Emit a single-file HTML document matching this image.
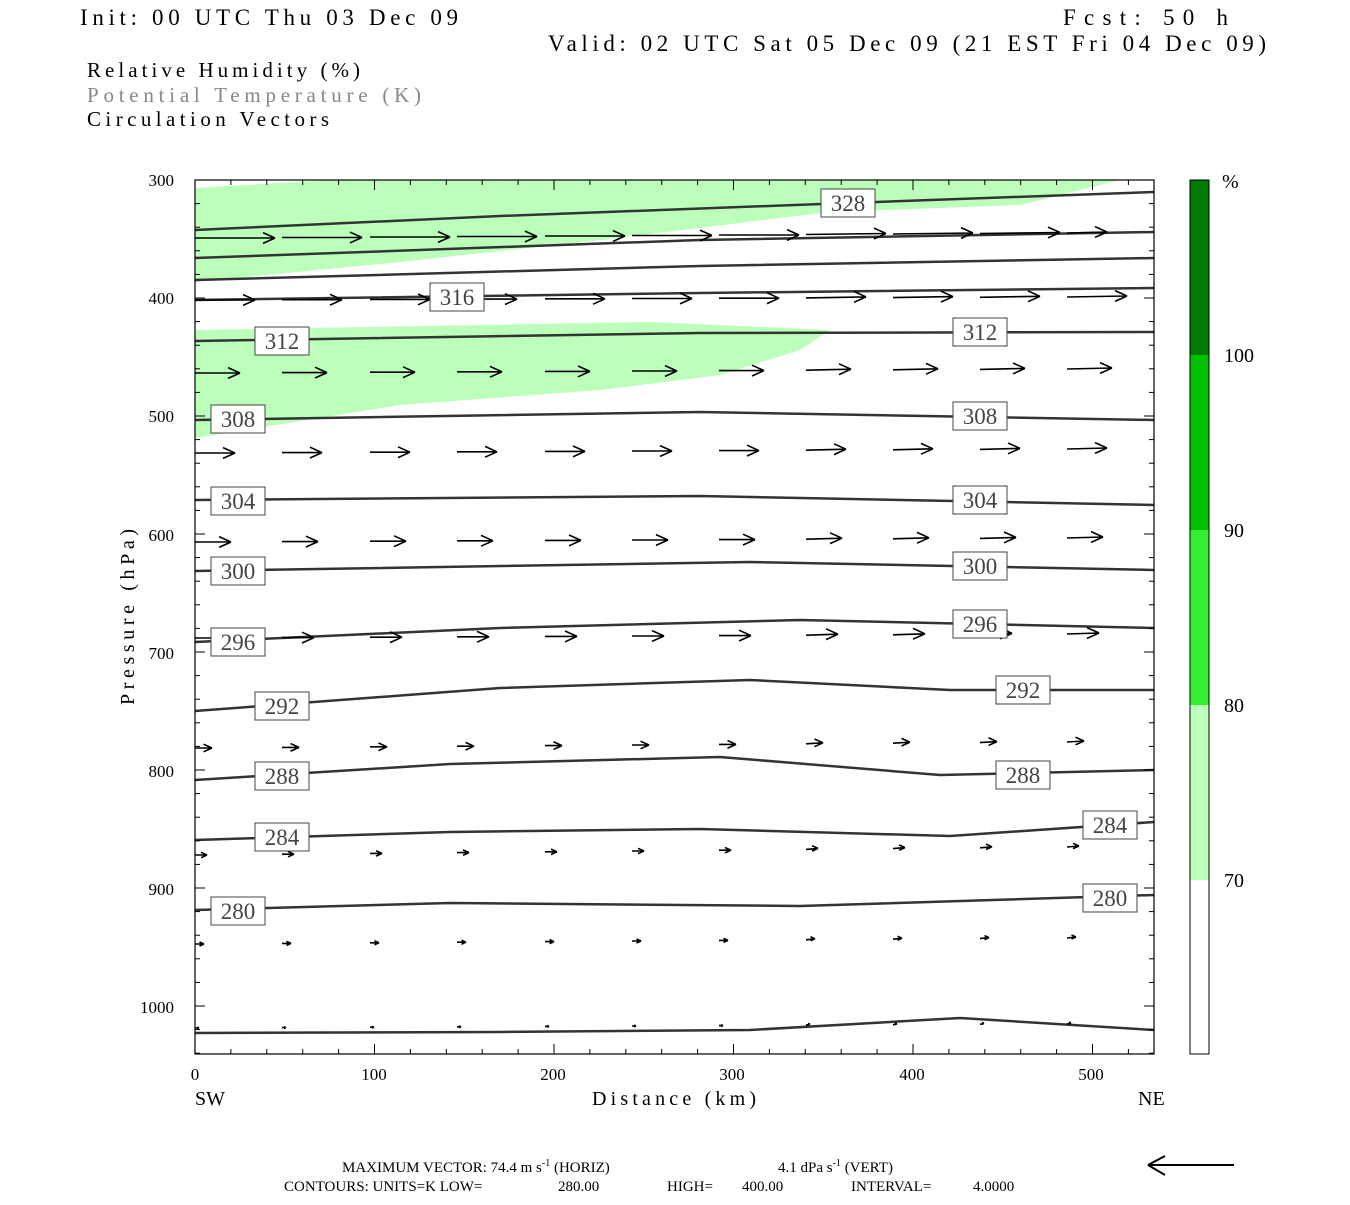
<!DOCTYPE html>
<html><head><meta charset="utf-8"><style>
body{margin:0;background:#fff;width:1350px;height:1200px;overflow:hidden}
svg text{font-family:"Liberation Serif",serif;fill:#000}
</style></head><body>
<svg id="s" width="1350" height="1200" xmlns="http://www.w3.org/2000/svg">
<text x="80" y="25" font-size="23" textLength="378" lengthAdjust="spacing">Init: 00 UTC Thu 03 Dec 09</text>
<text x="1063" y="25" font-size="23" textLength="165" lengthAdjust="spacing">Fcst:   50 h</text>
<text x="548" y="51" font-size="23" textLength="718" lengthAdjust="spacing">Valid: 02 UTC Sat 05 Dec 09 (21 EST Fri 04 Dec 09)</text>
<text x="87" y="77" font-size="21" textLength="273" lengthAdjust="spacing">Relative Humidity (%)</text>
<text x="87" y="102" font-size="21" style="fill:#888" textLength="334" lengthAdjust="spacing">Potential Temperature (K)</text>
<text x="87" y="126" font-size="21" textLength="242" lengthAdjust="spacing">Circulation Vectors</text>
<path d="M195,188 L330,180 L1120,180 L1040,200 L1020,205 L830,212 L600,240 L400,262 L195,282 Z" fill="#bbffbb"/>
<path d="M195,330 L650,322 L830,330 L800,350 L720,375 L600,390 L400,405 L195,438 Z" fill="#bbffbb"/>
<g id="cont" fill="none" stroke="#333" stroke-width="2.5">
<path d="M195,230 L500,216 L848,203 L1154,192"/>
<path d="M195,258 L700,240 L1154,232"/>
<path d="M195,280 L700,266 L1154,258"/>
<path d="M195,300 L700,293 L1154,288"/>
<path d="M195,341 L700,333 L1154,332"/>
<path d="M195,420 L700,412 L1154,420"/>
<path d="M195,500 L700,496 L1154,505"/>
<path d="M195,571 L750,562 L1154,570"/>
<path d="M195,642 L500,628 L800,620 L1154,628"/>
<path d="M195,711 L500,688 L750,680 L950,690 L1154,690"/>
<path d="M195,780 L450,764 L720,757 L940,775 L1154,770"/>
<path d="M195,840 L450,832 L700,829 L950,836 L1154,822"/>
<path d="M195,910 L450,903 L800,906 L1154,895"/>
<path d="M195,1033 L500,1032 L750,1030 L960,1018 L1154,1030"/>
</g>
<g id="arr" stroke="#000" stroke-width="1.6" fill="none"></g>
<g id="lab" font-size="23"></g>
<rect x="195" y="180" width="959" height="874" fill="none" stroke="#000" stroke-width="1.2"/>
<g id="ticks" stroke="#000" stroke-width="1"></g>
<g font-size="17" text-anchor="end">
<text x="174" y="186">300</text><text x="174" y="304">400</text><text x="174" y="422">500</text>
<text x="174" y="541">600</text><text x="174" y="659">700</text><text x="174" y="777">800</text>
<text x="174" y="895">900</text><text x="174" y="1013">1000</text>
</g>
<g font-size="17" text-anchor="middle">
<text x="195" y="1080">0</text><text x="374" y="1080">100</text><text x="553" y="1080">200</text>
<text x="732" y="1080">300</text><text x="912" y="1080">400</text><text x="1091" y="1080">500</text>
</g>
<text x="195" y="1105" font-size="20">SW</text>
<text x="1138" y="1105" font-size="20">NE</text>
<text x="592" y="1105" font-size="20" textLength="164" lengthAdjust="spacing">Distance (km)</text>
<text transform="translate(134,705) rotate(-90)" font-size="20" textLength="176" lengthAdjust="spacing">Pressure (hPa)</text>
<rect x="1190" y="180" width="19" height="175" fill="#007a00"/>
<rect x="1190" y="355" width="19" height="175" fill="#00c000"/>
<rect x="1190" y="530" width="19" height="175" fill="#33ee33"/>
<rect x="1190" y="705" width="19" height="175" fill="#bbffbb"/>
<rect x="1190" y="880" width="19" height="174" fill="#fff"/>
<rect x="1190" y="180" width="19" height="874" fill="none" stroke="#000"/>
<g font-size="20"><text x="1222" y="188">%</text><text x="1224" y="362">100</text><text x="1224" y="537">90</text><text x="1224" y="712">80</text><text x="1224" y="887">70</text></g>
<g font-size="15">
<text x="342" y="1172">MAXIMUM VECTOR:  74.4 m s<tspan dy="-6" font-size="10">-1</tspan><tspan dy="6"> (HORIZ)</tspan></text>
<text x="778" y="1172">4.1 dPa s<tspan dy="-6" font-size="10">-1</tspan><tspan dy="6"> (VERT)</tspan></text>
<text x="284" y="1191">CONTOURS:  UNITS=K  LOW=</text>
<text x="558" y="1191">280.00</text>
<text x="667" y="1191">HIGH=</text><text x="742" y="1191">400.00</text>
<text x="851" y="1191">INTERVAL=</text><text x="973" y="1191">4.0000</text>
</g>
<g stroke="#000" stroke-width="2" fill="none"><path d="M1234,1165 L1148,1165 M1148,1165 L1165,1156 M1148,1165 L1165,1175"/></g>
</svg>
<script>
var NS="http://www.w3.org/2000/svg";
function el(p,t,a,txt){var e=document.createElementNS(NS,t);for(var k in a)e.setAttribute(k,a[k]);if(txt)e.textContent=txt;p.appendChild(e);return e;}
var A=document.getElementById("arr");
var rows=[[238,80,-5],[300,60,-3],[373,45,-4],[453,40,-4],[542,36,-4],[638,32,-4],[748,17,-6],[855,12,-8],[944,9,-6],[1028,4,-4]];
var xs=[195,282,370,457,545,632,719,806,893,980,1067];
rows.forEach(function(r,ri){xs.forEach(function(x,i){
 var L=r[1], y=r[0]+r[2]*(i/10);
 if(ri==0&&i==10)L=40;
 var x2=x+L,y2=y-(i>6?1:0);var h=Math.min(12,L*0.5);
 el(A,"path",{d:"M"+x+","+y+" L"+x2+","+y2+" M"+x2+","+y2+" L"+(x2-h)+","+(y2-h*0.45)+" M"+x2+","+y2+" L"+(x2-h)+","+(y2+h*0.45)});
});});
var Lb=document.getElementById("lab");
[["328",848,203],["316",457,297],["312",282,341],["312",980,332],["308",238,419],["308",980,416],["304",238,501],["304",980,500],["300",238,571],["300",980,566],["296",238,642],["296",980,624],["292",282,706],["292",1023,690],["288",282,776],["288",1023,775],["284",282,837],["284",1110,825],["280",238,911],["280",1110,898]].forEach(function(l){
 el(Lb,"rect",{x:l[1]-27,y:l[2]-14,width:54,height:28,fill:"#fff",stroke:"#444","stroke-width":1});
 el(Lb,"text",{x:l[1],y:l[2]+8,"text-anchor":"middle",style:"fill:#444"},l[0]);
});
var T=document.getElementById("ticks");
for(var p=300;p<=1040;p+=20){var y=180+(p-300)*1.18;var len=(p%100==0)?10:5;
 el(T,"line",{x1:195,y1:y,x2:195+len,y2:y});el(T,"line",{x1:1154,y1:y,x2:1154-len,y2:y});}
for(var d=0;d<=534;d+=20){var x=195+d*1.795;var len=(d%100==0)?10:5;
 el(T,"line",{x1:x,y1:1054,x2:x,y2:1054-len});el(T,"line",{x1:x,y1:180,x2:x,y2:180+len});}
</script>
</body></html>
